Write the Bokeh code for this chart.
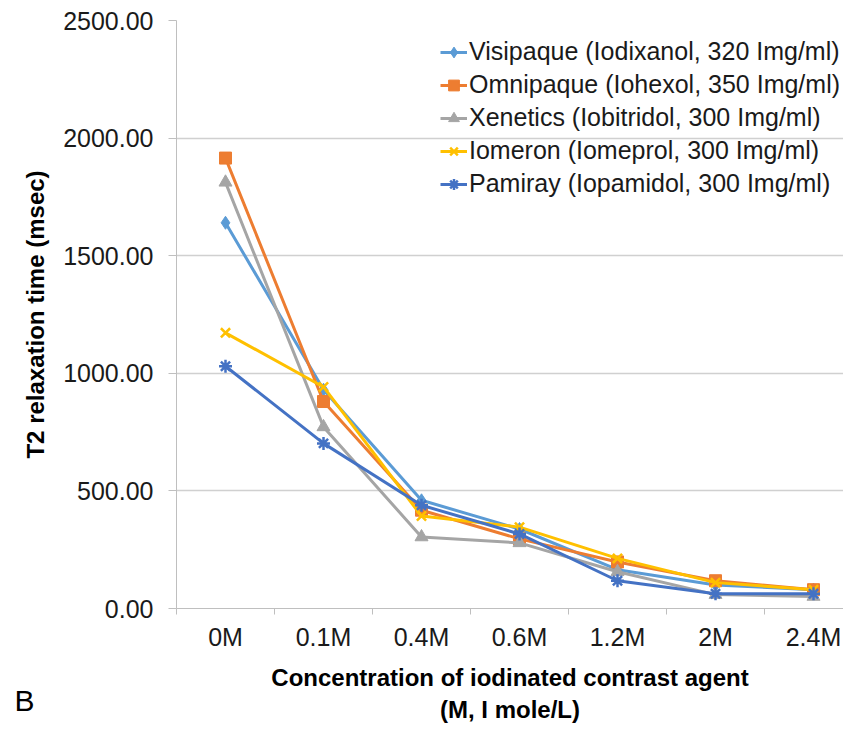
from bokeh.plotting import figure
from bokeh.models import Range1d, FixedTicker, NumeralTickFormatter, Legend, Title
from bokeh.embed import file_html
from bokeh.resources import INLINE

categories = ["0M", "0.1M", "0.4M", "0.6M", "1.2M", "2M", "2.4M"]
visipaque = [1640, 930, 460, 338, 165, 100, 80]
omnipaque = [1915, 880, 418, 296, 198, 118, 80]
xenetics = [1812, 772, 304, 279, 156, 59, 51]
iomeron = [1172, 942, 393, 346, 213, 110, 80]
pamiray = [1030, 702, 439, 317, 118, 63, 63]

series_names = [
    "Visipaque (Iodixanol, 320 Img/ml)",
    "Omnipaque (Iohexol, 350 Img/ml)",
    "Xenetics (Iobitridol, 300 Img/ml)",
    "Iomeron (Iomeprol, 300 Img/ml)",
    "Pamiray (Iopamidol, 300 Img/ml)",
]
series_values = [visipaque, omnipaque, xenetics, iomeron, pamiray]
colors = ["#5B9BD5", "#ED7D31", "#A5A5A5", "#FFC000", "#4472C4"]
markers = ["diamond", "square", "triangle", "x", "asterisk"]
sizes = [13, 12, 13, 13, 13]

y_ticks = [0, 500, 1000, 1500, 2000, 2500]
x_title = "Concentration of iodinated contrast agent\n(M, I mole/L)"
panel_letter = "B"

FONT = "Liberation Sans"
W, H = 843, 725

xs = list(range(len(categories)))

p = figure(width=W, height=H, output_backend="svg", toolbar_location=None,
           x_range=Range1d(-0.5, 6.306), y_range=Range1d(0, 2500),
           min_border_left=176, min_border_top=20, min_border_bottom=117,
           min_border_right=0)
p.outline_line_color = None
p.background_fill_color = "white"

renderers = []
for name, vals, c, m, s in zip(series_names, series_values, colors, markers, sizes):
    l = p.line(xs, vals, line_color=c, line_width=3)
    sc = p.scatter(xs, vals, marker=m, size=s, fill_color=c, line_color=c,
                   line_width=2.5 if m in ("x", "asterisk") else 1)
    renderers.append((name, [l, sc]))

legend = Legend(items=renderers, location=(264, 410), padding=0, margin=0,
                background_fill_alpha=0, border_line_alpha=0,
                label_text_font=FONT, label_text_font_size="25px",
                label_text_color="#1a1a1a",
                glyph_width=27, glyph_height=28, label_height=28, spacing=4,
                label_standoff=2)
p.add_layout(legend, "center")

# x axis
p.xaxis.ticker = FixedTicker(ticks=xs, minor_ticks=[i - 0.5 for i in range(len(categories) + 1)])
p.xaxis.major_label_overrides = {i: c for i, c in enumerate(categories)}
p.xaxis.major_tick_line_color = None
p.xaxis.major_tick_out = 0
p.xaxis.major_tick_in = 0
p.xaxis.minor_tick_out = 6
p.xaxis.minor_tick_in = 0
p.xaxis.minor_tick_line_color = "#bfbfbf"
p.xaxis.axis_line_color = "#bfbfbf"
p.xaxis.major_label_text_font = FONT
p.xaxis.major_label_text_font_size = "25px"
p.xaxis.major_label_text_color = "#1a1a1a"
p.xaxis.major_label_standoff = 8
p.xaxis.axis_label = x_title
p.xaxis.axis_label_text_font = FONT
p.xaxis.axis_label_text_font_size = "24px"
p.xaxis.axis_label_text_font_style = "bold"
p.xaxis.axis_label_text_color = "#000000"
p.xaxis.axis_label_standoff = 10

# y axis
p.yaxis.ticker = FixedTicker(ticks=y_ticks)
p.yaxis.formatter = NumeralTickFormatter(format="0.00")
p.yaxis.major_tick_out = 8
p.yaxis.major_tick_in = 0
p.yaxis.minor_tick_line_color = None
p.yaxis.major_tick_line_color = "#bfbfbf"
p.yaxis.axis_line_color = "#bfbfbf"
p.yaxis.major_label_text_font = FONT
p.yaxis.major_label_text_font_size = "25px"
p.yaxis.major_label_text_color = "#1a1a1a"
p.yaxis.major_label_standoff = 15
p.yaxis.axis_label = "T2 relaxation time (msec)"
p.yaxis.axis_label_text_font = FONT
p.yaxis.axis_label_text_font_size = "24px"
p.yaxis.axis_label_text_font_style = "bold"
p.yaxis.axis_label_text_color = "#000000"
p.yaxis.axis_label_standoff = 11

p.xgrid.grid_line_color = None
p.ygrid.grid_line_color = "#d0d0d0"
p.ygrid.grid_line_width = 1.5

p.add_layout(Title(text=panel_letter + "\n ", align="left", offset=-162, standoff=-88,
                   vertical_align="bottom", text_line_height=1.6,
                   text_font=FONT, text_font_size="30px", text_font_style="normal",
                   text_color="#000000"), "below")

open("out.html", "w").write(file_html(p, INLINE))
